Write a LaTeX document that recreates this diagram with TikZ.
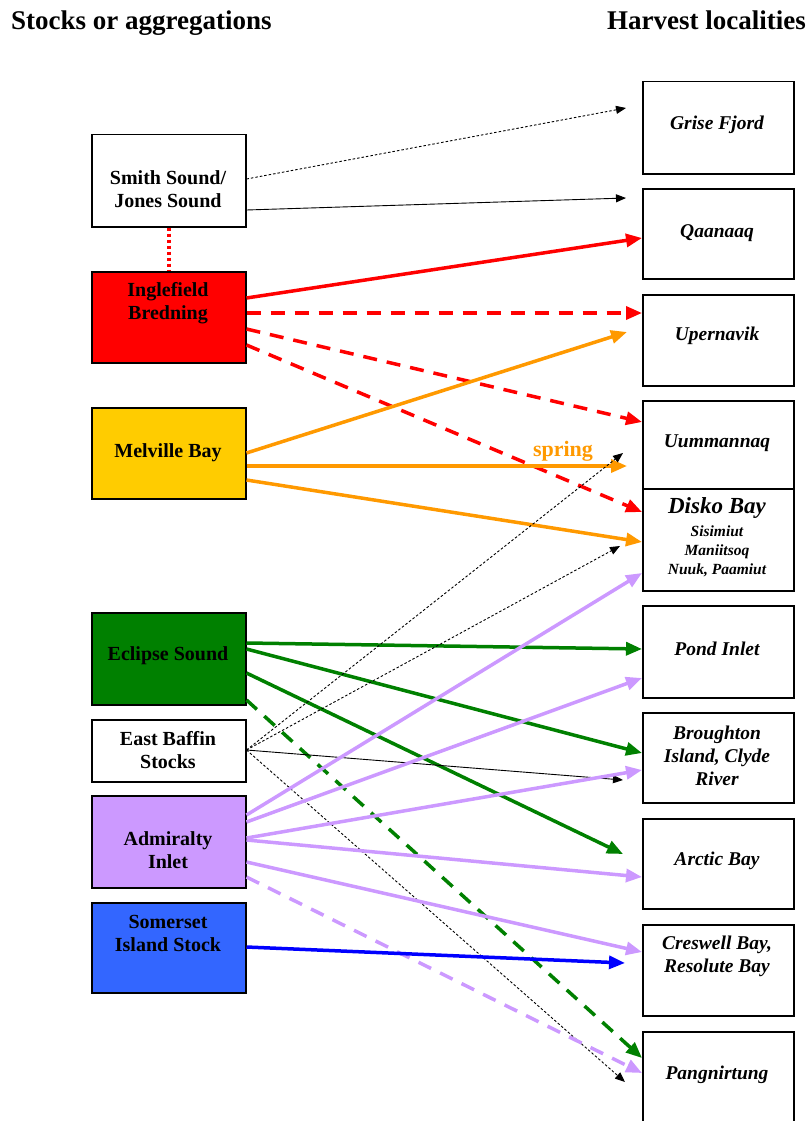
\documentclass[tikz,border=0pt]{standalone}
\usepackage{fontspec}
\setmainfont{Liberation Serif}
\usetikzlibrary{arrows.meta,calc}
\definecolor{cred}{HTML}{FF0000}
\definecolor{cgold}{HTML}{FFCC00}
\definecolor{corange}{HTML}{FF9900}
\definecolor{cgreen}{HTML}{008000}
\definecolor{clav}{HTML}{CC99FF}
\definecolor{cblue}{HTML}{3366FF}
\definecolor{cdblue}{HTML}{0000FF}
\begin{document}
\begin{tikzpicture}[x=1pt,y=-1pt,
  lbox/.style={draw=black, line width=1.5pt, minimum width=154pt, minimum height=#1, inner sep=0pt, anchor=north west},
  rbox/.style={draw=black, line width=1.5pt, minimum width=151pt, minimum height=#1, inner sep=0pt, anchor=north west},
  ltext/.style={font=\bfseries\fontsize{20}{23}\selectfont, align=center, inner sep=0pt},
  rtext/.style={font=\bfseries\itshape\fontsize{19.5}{23}\selectfont, align=center, inner sep=0pt},
  hdr/.style={font=\bfseries\fontsize{27}{29}\selectfont, inner sep=0pt},
  fat/.style={line width=3.5pt, -{Triangle[length=16pt,width=13pt]}},
  slim/.style={line width=0.9pt, -{Triangle[length=10pt,width=8pt]}},
  dots/.style={dash pattern=on 2.5pt off 2pt},
  brk/.style={dash pattern=on 14pt off 10pt}]
\useasboundingbox (0,0) rectangle (811,1121);
% headers
\node[hdr, anchor=base west] (h1) at (11,30) {Stocks or aggregations};
\node[hdr, anchor=base east] (h2) at (806,30) {Harvest localities};
% left boxes
\node[lbox=92pt] (smith) at (91,134) {};
\node[lbox=91pt, fill=cred] (ingle) at (91,271) {};
\node[lbox=91pt, fill=cgold] (melv) at (91,407) {};
\node[lbox=92pt, fill=cgreen] (eclip) at (91,612) {};
\node[lbox=62pt] (eastb) at (91,719) {};
\node[lbox=92pt, fill=clav] (admir) at (91,795) {};
\node[lbox=90pt, fill=cblue] (somer) at (91,902) {};
\node[ltext] (smithT) at (168,189) {Smith Sound/\\Jones Sound};
\node[ltext] (ingleT) at (168,303) {Inglefield\\Bredning};
\node[ltext] (melvT) at (168,453) {Melville Bay};
\node[ltext] (eclipT) at (168,656) {Eclipse Sound};
\node[ltext] (eastbT) at (168,750) {East Baffin\\Stocks};
\node[ltext] (admirT) at (168,850) {Admiralty\\Inlet};
\node[ltext] (somerT) at (168,933) {Somerset\\Island Stock};
% right boxes
\node[rbox=92pt] (grise) at (642,81) {};
\node[rbox=90pt] (qaan) at (642,188) {};
\node[rbox=91pt] (uper) at (642,294) {};
\node[rbox=88pt] (uumm) at (642,400) {};
\node[rbox=102pt] (disko) at (642,488) {};
\node[rbox=92pt] (pond) at (642,605) {};
\node[rbox=90pt] (brou) at (642,712) {};
\node[rbox=90pt] (arct) at (642,818) {};
\node[rbox=91pt] (cres) at (642,924) {};
\node[rbox=100pt] (pang) at (642,1031) {};
\node[rtext] (griseT) at (717,125) {Grise Fjord};
\node[rtext] (qaanT) at (717,233) {Qaanaaq};
\node[rtext] (uperT) at (717,336) {Upernavik};
\node[rtext] (uummT) at (717,443) {Uummannaq};
\node[rtext, font=\bfseries\itshape\fontsize{23}{24}\selectfont] (diskoT) at (717,508) {Disko Bay};
\node[rtext, font=\bfseries\itshape\fontsize{15.5}{19}\selectfont] (diskoS) at (717,551) {Sisimiut\\Maniitsoq\\Nuuk, Paamiut};
\node[rtext] (pondT) at (717,649) {Pond Inlet};
\node[rtext] (brouT) at (717,756) {Broughton\\Island, Clyde\\River};
\node[rtext] (arctT) at (717,861) {Arctic Bay};
\node[rtext] (cresT) at (717,956) {Creswell Bay,\\Resolute Bay};
\node[rtext] (pangT) at (717,1075) {Pangnirtung};
% Smith Sound
\draw[slim,dots] ($(smith.north east)+(0,45)$) -- ($(grise.north west)+(-16,27)$);
\draw[slim] ($(smith.north east)+(0,76)$) -- ($(qaan.north west)+(-16,10)$);
\draw[cred, line width=4pt, dash pattern=on 3pt off 3pt] (smith.south) -- (ingle.north);
% Inglefield
\draw[fat,cred] ($(ingle.north east)+(0,27)$) -- ($(qaan.north west)+(0,50)$);
\draw[fat,cred,brk] ($(ingle.north east)+(0,42)$) -- ($(uper.north west)+(0,19)$);
\draw[fat,cred,brk] ($(ingle.north east)+(0,58)$) -- ($(uumm.north west)+(0,22)$);
\draw[fat,cred,brk] ($(ingle.north east)+(0,74)$) -- ($(disko.north west)+(0,24)$);
% Melville
\draw[fat,corange] ($(melv.north east)+(0,46)$) -- ($(uper.north west)+(-15,38)$);
\draw[fat,corange] ($(melv.north east)+(0,59)$) -- ($(uumm.north west)+(-15,66)$);
\draw[fat,corange] ($(melv.north east)+(0,73)$) -- ($(disko.north west)+(0,54)$);
\node[font=\bfseries\fontsize{22}{22}\selectfont, text=corange, inner sep=0pt] (spring) at (563,451) {spring};
% Eclipse
\draw[fat,cgreen] ($(eclip.north east)+(0,31)$) -- ($(pond.north west)+(0,44)$);
\draw[fat,cgreen] ($(eclip.north east)+(0,37)$) -- ($(brou.north west)+(0,41)$);
\draw[fat,cgreen] ($(eclip.north east)+(0,61)$) -- ($(arct.north west)+(-19,36)$);
\draw[fat,cgreen,brk] ($(eclip.north east)+(0,88)$) -- ($(pang.north west)+(0,27)$);
% East Baffin
\coordinate (eb) at ($(eastb.north east)+(0,31)$);
\draw[slim,dots] (eb) -- ($(uumm.north west)+(-19,53)$);
\draw[slim,dots] (eb) -- ($(disko.north west)+(-22,58)$);
\draw[slim] (eb) -- ($(brou.north west)+(-19,68)$);
\draw[slim,dots] (eb) -- ($(pang.north west)+(-17,51)$);
% Admiralty
\draw[fat,clav] ($(admir.north east)+(0,20)$) -- ($(disko.north west)+(0,85)$);
\draw[fat,clav] ($(admir.north east)+(0,27)$) -- ($(pond.north west)+(0,73)$);
\draw[fat,clav] ($(admir.north east)+(0,43)$) -- ($(brou.north west)+(0,58)$);
\draw[fat,clav] ($(admir.north east)+(0,45)$) -- ($(arct.north west)+(0,59)$);
\draw[fat,clav] ($(admir.north east)+(0,67)$) -- ($(cres.north west)+(0,28)$);
\draw[fat,clav,brk] ($(admir.north east)+(0,82)$) -- ($(pang.north west)+(0,42)$);
% Somerset
\draw[fat,cdblue] ($(somer.north east)+(0,45)$) -- ($(cres.north west)+(-17,39)$);
\end{tikzpicture}
\end{document}
